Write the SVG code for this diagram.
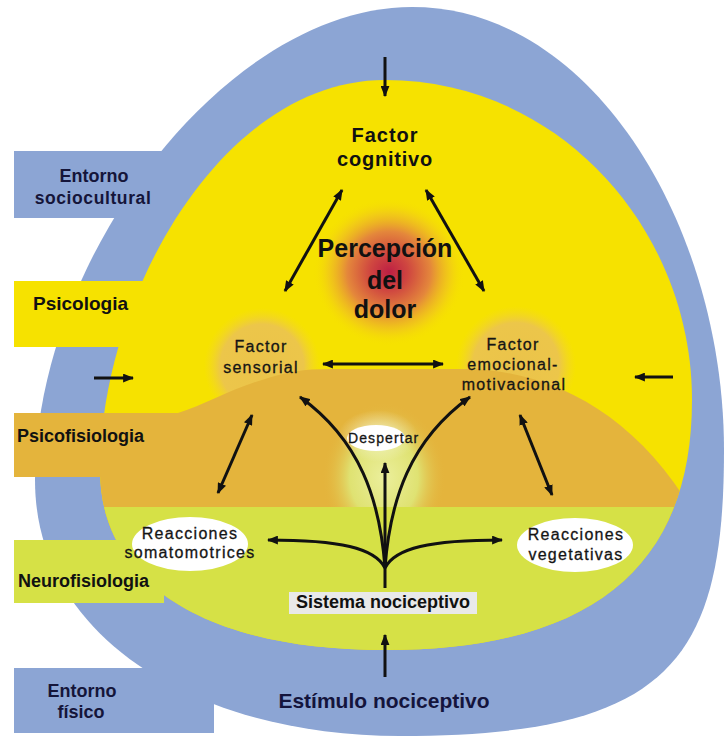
<svg xmlns="http://www.w3.org/2000/svg" width="725" height="738" viewBox="0 0 725 738">
<style>
.lbl{font-family:"Liberation Sans",Arial,Helvetica,sans-serif;font-weight:bold;fill:#111;text-anchor:middle}
.side{font-family:"Liberation Sans",Arial,Helvetica,sans-serif;font-weight:bold;fill:#15153a}
.mid{font-family:"Liberation Sans",Arial,Helvetica,sans-serif;font-size:16px;letter-spacing:1.3px;fill:#151515;stroke:#151515;stroke-width:0.3;text-anchor:middle}
.ar{stroke:#111;stroke-width:3;fill:none}
.blue{fill:#8ca5d4}
.yel{fill:#f6e200}
.tan{fill:#e4b43c}
.grn{fill:#d6e146}
</style>
<defs>
<marker id="ah" viewBox="0 0 10 8" refX="9" refY="4" markerWidth="11" markerHeight="9" markerUnits="userSpaceOnUse" orient="auto-start-reverse">
<path d="M0,0 L10,4 L0,8 Z" fill="#111"/>
</marker>
<clipPath id="innerClip">
<path d="M385,80 C560,80 692,230 692,400 C692,560 600,650 385,650 C200,650 100,580 100,470 C100,300 220,80 385,80 Z"/>
</clipPath>
<radialGradient id="gPain" cx="0.5" cy="0.5" r="0.5">
<stop offset="0" stop-color="#bd1f44"/>
<stop offset="0.25" stop-color="#cf4640"/>
<stop offset="0.55" stop-color="#e4873b"/>
<stop offset="0.8" stop-color="#efbf22" stop-opacity="0.6"/>
<stop offset="1" stop-color="#f6e200" stop-opacity="0"/>
</radialGradient>
<radialGradient id="gFac" cx="0.5" cy="0.5" r="0.5">
<stop offset="0" stop-color="#ebc34a"/>
<stop offset="0.72" stop-color="#ecc64a"/>
<stop offset="1" stop-color="#f3d62a" stop-opacity="0"/>
</radialGradient>
<radialGradient id="gWake" cx="0.5" cy="0.5" r="0.5">
<stop offset="0" stop-color="#ebef9c"/>
<stop offset="0.55" stop-color="#dfe272"/>
<stop offset="1" stop-color="#e4b43c" stop-opacity="0"/>
</radialGradient>
<radialGradient id="gWhite" cx="0.5" cy="0.5" r="0.5">
<stop offset="0" stop-color="#ffffff" stop-opacity="0.6"/>
<stop offset="1" stop-color="#ffffff" stop-opacity="0"/>
</radialGradient>
</defs>

<g id="background">
<path class="blue" d="M412,7 C595,7 724,230 724,450 C724,660 670,736 400,736 C200,736 35,640 35,480 C35,260 225,7 412,7 Z"/>
</g>

<g id="entorno-sociocultural">
<rect class="blue" x="14" y="151" width="150" height="67"/>
<text class="side" x="94" y="182" font-size="18" text-anchor="middle">Entorno</text>
<text class="side" x="93" y="204" font-size="17.5" text-anchor="middle" letter-spacing="0.6">sociocultural</text>
</g>

<g id="entorno-fisico">
<rect class="blue" x="14" y="668" width="200" height="65"/>
<text class="side" x="82" y="697" font-size="18" text-anchor="middle">Entorno</text>
<text class="side" x="81" y="718" font-size="18" text-anchor="middle">físico</text>
</g>

<g id="inner-regions" clip-path="url(#innerClip)">
<rect class="yel" x="0" y="0" width="725" height="738"/>
<ellipse cx="389" cy="272" rx="76" ry="74" fill="url(#gPain)"/>
<circle cx="262" cy="366" r="58" fill="url(#gFac)"/>
<circle cx="516" cy="366" r="60" fill="url(#gFac)"/>
<path class="tan" d="M0,413 L178,413 C205,405 228,390 262,380 C285,372 305,369 330,369 L470,369 C560,372 640,420 695,515 L695,530 L0,530 Z"/>
<ellipse cx="384" cy="478" rx="62" ry="76" fill="url(#gWake)"/>
<ellipse cx="378" cy="436" rx="40" ry="26" fill="url(#gWhite)"/>
<rect class="grn" x="0" y="507" width="725" height="231"/>
</g>

<g id="psicologia">
<rect class="yel" x="14" y="281" width="150" height="66"/>
<text class="side" x="33" y="310" font-size="19" style="fill:#111">Psicologia</text>
</g>
<g id="psicofisiologia">
<rect class="tan" x="14" y="413" width="166" height="64"/>
<text class="side" x="17" y="442" font-size="18" style="fill:#111">Psicofisiologia</text>
</g>
<g id="neurofisiologia">
<rect class="grn" x="14" y="540" width="150" height="63"/>
<text class="side" x="18" y="587" font-size="18" style="fill:#111">Neurofisiologia</text>
</g>

<g id="factor-cognitivo">
<text class="lbl" x="385" y="142" font-size="20" letter-spacing="1">Factor</text>
<text class="lbl" x="385" y="166" font-size="20" letter-spacing="0.8">cognitivo</text>
</g>

<g id="percepcion-dolor">
<text class="lbl" x="385" y="257" font-size="25">Percepción</text>
<text class="lbl" x="385" y="289" font-size="25">del</text>
<text class="lbl" x="385" y="318" font-size="25">dolor</text>
</g>

<g id="factor-sensorial">
<text class="mid" x="261" y="352">Factor</text>
<text class="mid" x="261" y="373">sensorial</text>
</g>

<g id="factor-emocional">
<text class="mid" x="513" y="350">Factor</text>
<text class="mid" x="513" y="370">emocional-</text>
<text class="mid" x="514" y="390">motivacional</text>
</g>

<g id="despertar">
<ellipse cx="376" cy="438" rx="29" ry="13" fill="#ffffff"/>
<text x="348" y="443" font-family="Liberation Sans, Arial, sans-serif" font-size="14" letter-spacing="1.1" fill="#151515" stroke="#151515" stroke-width="0.3">Despertar</text>
</g>

<g id="reacciones-somatomotrices">
<ellipse cx="190" cy="544" rx="58" ry="27" fill="#ffffff"/>
<text class="mid" x="190" y="539">Reacciones</text>
<text class="mid" x="190" y="558">somatomotrices</text>
</g>

<g id="reacciones-vegetativas">
<ellipse cx="575" cy="545" rx="58" ry="27" fill="#ffffff"/>
<text class="mid" x="576" y="540">Reacciones</text>
<text class="mid" x="576" y="560">vegetativas</text>
</g>

<g id="sistema-nociceptivo">
<rect x="289" y="592" width="188" height="22" fill="#e9e9e9"/>
<text class="lbl" x="383" y="608" font-size="18">Sistema nociceptivo</text>
</g>

<g id="estimulo-nociceptivo">
<text class="lbl" x="384" y="708" font-size="21" style="fill:#14143c">Estímulo nociceptivo</text>
</g>

<g id="connectors">
<line class="ar" x1="385" y1="57" x2="385" y2="96" marker-end="url(#ah)"/>
<line class="ar" x1="342" y1="190" x2="285" y2="291" marker-start="url(#ah)" marker-end="url(#ah)"/>
<line class="ar" x1="426" y1="190" x2="484" y2="291" marker-start="url(#ah)" marker-end="url(#ah)"/>
<line class="ar" x1="323" y1="364" x2="443" y2="364" marker-start="url(#ah)" marker-end="url(#ah)"/>
<line class="ar" x1="94" y1="378" x2="133" y2="378" marker-end="url(#ah)"/>
<line class="ar" x1="673" y1="377" x2="635" y2="377" marker-end="url(#ah)"/>
<line class="ar" x1="252" y1="415" x2="218" y2="493" marker-start="url(#ah)" marker-end="url(#ah)"/>
<line class="ar" x1="520" y1="415" x2="552" y2="495" marker-start="url(#ah)" marker-end="url(#ah)"/>
<path class="ar" d="M385,588 L385,566"/>
<path class="ar" d="M385,568 C380,500 360,440 300,397" marker-end="url(#ah)"/>
<path class="ar" d="M385,568 C390,500 410,440 470,397" marker-end="url(#ah)"/>
<path class="ar" d="M385,568 L385,463" marker-end="url(#ah)"/>
<path class="ar" d="M385,568 C375,548 340,540 268,540" marker-end="url(#ah)"/>
<path class="ar" d="M385,568 C395,548 430,540 502,540" marker-end="url(#ah)"/>
<line class="ar" x1="385" y1="677" x2="385" y2="635" marker-end="url(#ah)"/>
</g>
</svg>
